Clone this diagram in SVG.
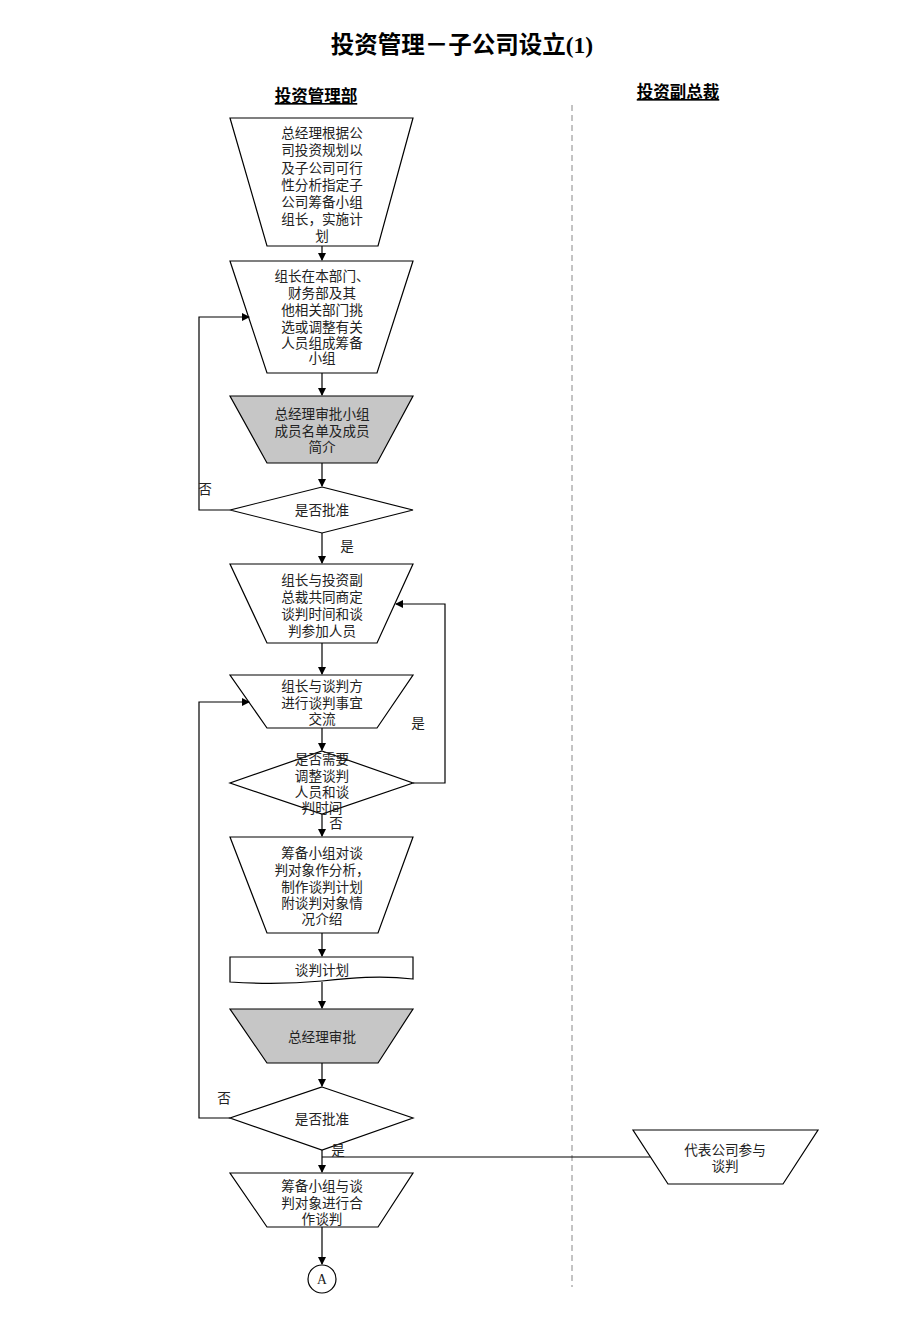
<svg xmlns="http://www.w3.org/2000/svg" width="920" height="1329" viewBox="0 0 920 1329">
<style>
.shape{fill:#fff;stroke:#000;stroke-width:1.2}
.gray{fill:#c6c6c6;stroke:#000;stroke-width:1.2}
.t{font-family:"Liberation Serif","Noto Sans CJK SC",serif;font-size:13.6px;fill:#222;text-anchor:middle}
.lbl{font-family:"Liberation Serif","Noto Sans CJK SC",serif;font-size:13.6px;fill:#222;text-anchor:middle}
.hdr{font-family:"Liberation Sans","Noto Sans CJK SC",sans-serif;font-size:16.5px;font-weight:bold;fill:#000;text-anchor:middle;text-decoration:underline}
.title{font-family:"Liberation Serif","Noto Sans CJK SC",serif;font-size:23.5px;font-weight:bold;fill:#000;text-anchor:middle}
.ln{fill:none;stroke:#000;stroke-width:1.2}
</style>
<defs>
<marker id="arr" markerWidth="8" markerHeight="8" refX="7" refY="4" orient="auto" markerUnits="userSpaceOnUse">
<path d="M0,0 L8,4 L0,8 z" fill="#000"/>
</marker>
</defs>
<rect width="920" height="1329" fill="#fff"/>
<text class="title" x="462" y="53">投资管理－子公司设立(1)</text>
<text class="hdr" x="316" y="102">投资管理部</text>
<text class="hdr" x="678" y="98">投资副总裁</text>
<line x1="572" y1="105" x2="572" y2="1287" stroke="#888" stroke-width="1" stroke-dasharray="6,4"/>

<g id="n1">
<polygon class="shape" points="230,118 413,118 378,246 267,246"/>
<text class="t" x="322" y="138">总经理根据公</text>
<text class="t" x="322" y="155">司投资规划以</text>
<text class="t" x="322" y="173">及子公司可行</text>
<text class="t" x="322" y="190">性分析指定子</text>
<text class="t" x="322" y="207">公司筹备小组</text>
<text class="t" x="322" y="224">组长，实施计</text>
<text class="t" x="322" y="241">划</text>
</g>
<g id="n2">
<polygon class="shape" points="230,261 413,261 377,373 267,373"/>
<text class="t" x="322" y="281">组长在本部门、</text>
<text class="t" x="322" y="298">财务部及其</text>
<text class="t" x="322" y="315">他相关部门挑</text>
<text class="t" x="322" y="332">选或调整有关</text>
<text class="t" x="322" y="348">人员组成筹备</text>
<text class="t" x="322" y="363">小组</text>
</g>
<g id="n3">
<polygon class="gray" points="230,396 413,396 377,463 267,463"/>
<text class="t" x="322" y="419">总经理审批小组</text>
<text class="t" x="322" y="436">成员名单及成员</text>
<text class="t" x="322" y="452">简介</text>
</g>
<g id="d1">
<polygon class="shape" points="322,487 413,510 322,533 230,510"/>
<text class="t" x="322" y="515">是否批准</text>
</g>
<g id="n4">
<polygon class="shape" points="230,564 413,564 377,643 267,643"/>
<text class="t" x="322" y="585">组长与投资副</text>
<text class="t" x="322" y="602">总裁共同商定</text>
<text class="t" x="322" y="619">谈判时间和谈</text>
<text class="t" x="322" y="636">判参加人员</text>
</g>
<g id="n5">
<polygon class="shape" points="230,675 413,675 377,728 267,728"/>
<text class="t" x="322" y="691">组长与谈判方</text>
<text class="t" x="322" y="708">进行谈判事宜</text>
<text class="t" x="322" y="724">交流</text>
</g>
<g id="d2">
<polygon class="shape" points="322,751 413,783 322,814 230,783"/>
<text class="t" x="322" y="764">是否需要</text>
<text class="t" x="322" y="781">调整谈判</text>
<text class="t" x="322" y="797">人员和谈</text>
<text class="t" x="322" y="813">判时间</text>
</g>
<g id="n6">
<polygon class="shape" points="230,837 413,837 378,933 267,933"/>
<text class="t" x="322" y="858">筹备小组对谈</text>
<text class="t" x="322" y="875">判对象作分析，</text>
<text class="t" x="322" y="892">制作谈判计划</text>
<text class="t" x="322" y="908">附谈判对象情</text>
<text class="t" x="322" y="924">况介绍</text>
</g>
<g id="n7">
<path class="shape" d="M230,957 L413,957 L413,979 C380,975 350,978 322,981 C290,984 260,984 230,982 Z"/>
<text class="t" x="322" y="975">谈判计划</text>
</g>
<g id="n8">
<polygon class="gray" points="230,1009 413,1009 378,1063 267,1063"/>
<text class="t" x="322" y="1042">总经理审批</text>
</g>
<g id="d3">
<polygon class="shape" points="322,1087 413,1118 322,1150 230,1118"/>
<text class="t" x="322" y="1124">是否批准</text>
</g>
<g id="n9">
<polygon class="shape" points="230,1173 413,1173 378,1227 267,1227"/>
<text class="t" x="322" y="1191">筹备小组与谈</text>
<text class="t" x="322" y="1208">判对象进行合</text>
<text class="t" x="322" y="1224">作谈判</text>
</g>
<g id="n10">
<polygon class="shape" points="633,1130 818,1130 783,1184 668,1184"/>
<text class="t" x="725" y="1155">代表公司参与</text>
<text class="t" x="725" y="1171">谈判</text>
</g>
<g id="a">
<circle class="shape" cx="322" cy="1279" r="14"/>
<text class="t" x="322" y="1284">A</text>
</g>

<g id="connectors">
<line class="ln" x1="322" y1="246" x2="322" y2="260" marker-end="url(#arr)"/>
<line class="ln" x1="322" y1="373" x2="322" y2="395" marker-end="url(#arr)"/>
<line class="ln" x1="322" y1="463" x2="322" y2="486" marker-end="url(#arr)"/>
<polyline class="ln" points="230,510 199,510 199,317 249,317" marker-end="url(#arr)"/>
<line class="ln" x1="322" y1="533" x2="322" y2="563" marker-end="url(#arr)"/>
<line class="ln" x1="322" y1="643" x2="322" y2="674" marker-end="url(#arr)"/>
<line class="ln" x1="322" y1="728" x2="322" y2="750" marker-end="url(#arr)"/>
<polyline class="ln" points="413,783 445,783 445,604 396,604" marker-end="url(#arr)"/>
<line class="ln" x1="322" y1="814" x2="322" y2="836" marker-end="url(#arr)"/>
<line class="ln" x1="322" y1="933" x2="322" y2="956" marker-end="url(#arr)"/>
<line class="ln" x1="322" y1="982" x2="322" y2="1008" marker-end="url(#arr)"/>
<line class="ln" x1="322" y1="1063" x2="322" y2="1086" marker-end="url(#arr)"/>
<polyline class="ln" points="230,1118 199,1118 199,702 249,702" marker-end="url(#arr)"/>
<line class="ln" x1="322" y1="1150" x2="322" y2="1172" marker-end="url(#arr)"/>
<line class="ln" x1="322" y1="1157" x2="650" y2="1157"/>
<line class="ln" x1="322" y1="1227" x2="322" y2="1264" marker-end="url(#arr)"/>
<text class="lbl" x="205" y="494">否</text>
<text class="lbl" x="347" y="551">是</text>
<text class="lbl" x="418" y="728">是</text>
<text class="lbl" x="336" y="828">否</text>
<text class="lbl" x="224" y="1103">否</text>
<text class="lbl" x="338" y="1155">是</text>
</g>
</svg>
